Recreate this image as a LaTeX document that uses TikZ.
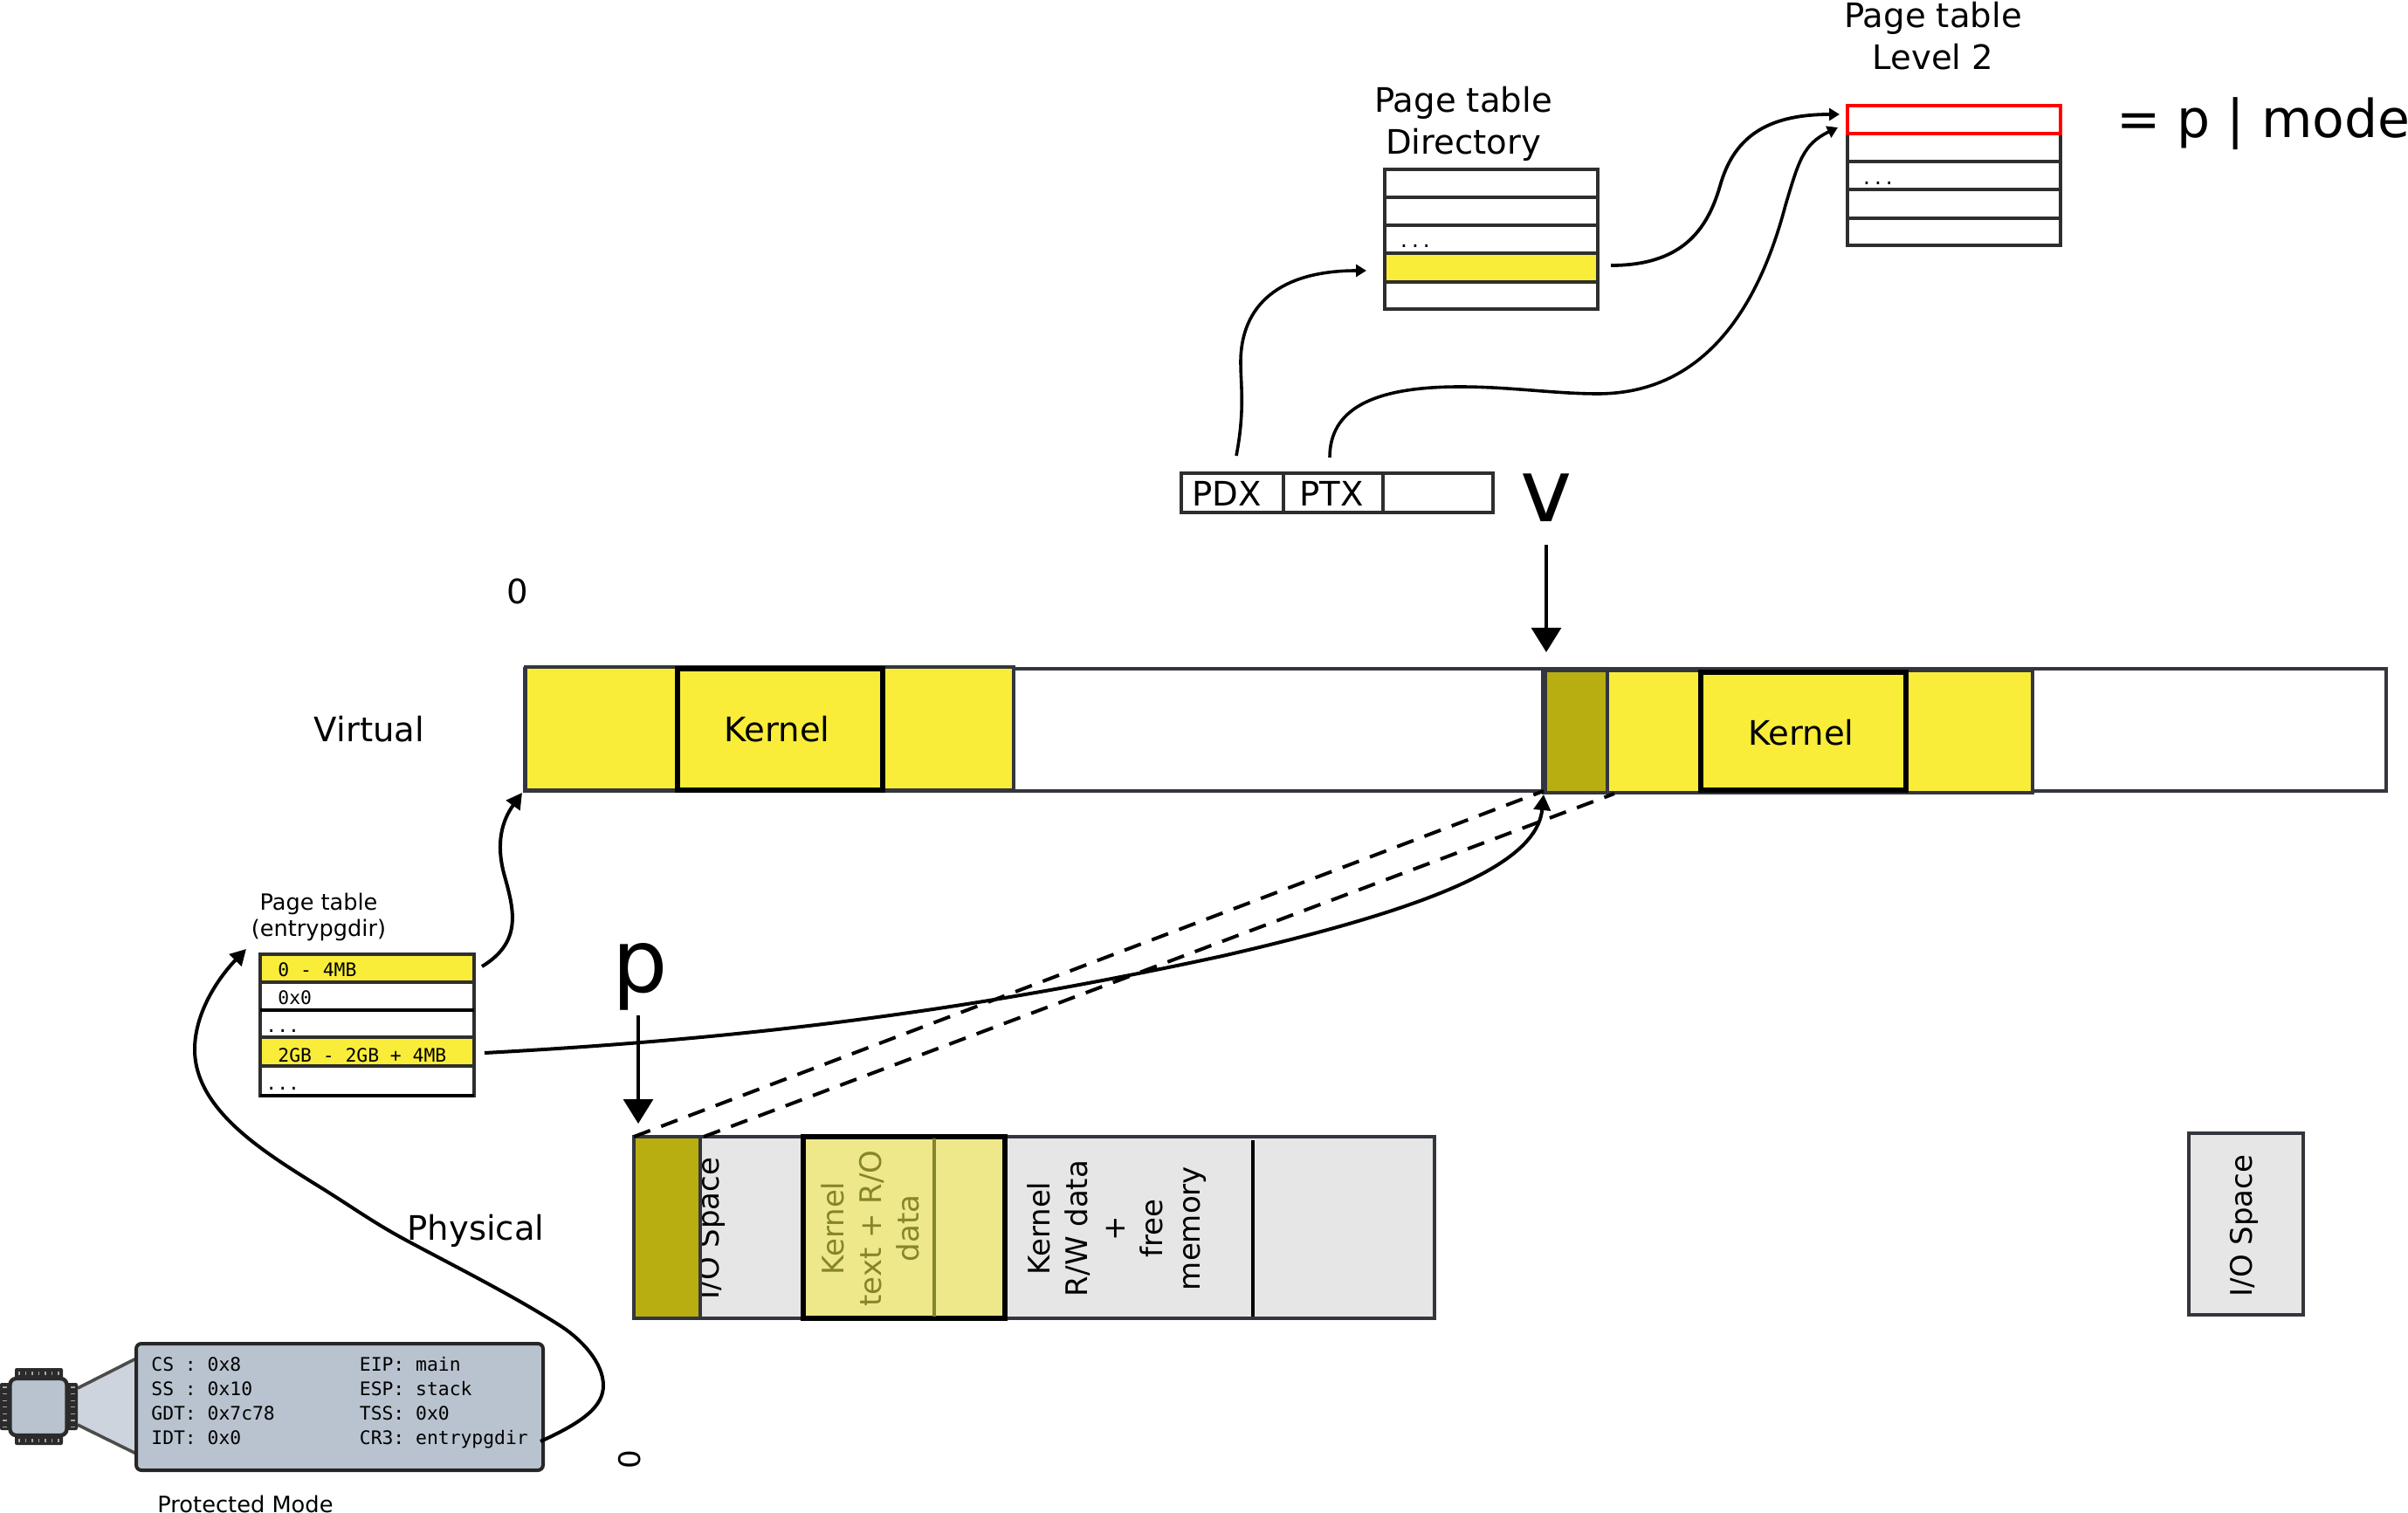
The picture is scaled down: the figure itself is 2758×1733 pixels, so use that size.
\documentclass[tikz,border=0pt]{standalone}
\usepackage{fontspec}
\setmainfont{DejaVu Sans}
\setmonofont{DejaVu Sans Mono}
\usetikzlibrary{arrows.meta,calc}
\definecolor{ylw}{HTML}{F9ED3A}
\definecolor{olv}{HTML}{B8AE12}
\definecolor{pale}{HTML}{EFE88A}
\definecolor{oltxt}{HTML}{85852A}
\definecolor{gry}{HTML}{E6E6E6}
\definecolor{edge}{HTML}{33363D}
\definecolor{steelb}{HTML}{B9C3D0}
\definecolor{conef}{HTML}{CDD4DD}
\definecolor{chipd}{HTML}{2B2B2B}
\newcommand{\bx}[6]{\node[boxn,minimum width={(#4-#2)*0.5pt},minimum height={(#5-#3)*0.5pt},#6] (#1) at ({(#2+#4)/2},{(#3+#5)/2}) {};}
\tikzset{
  boxn/.style={rectangle,inner sep=0pt,outer sep=0pt,draw=edge,line width=2pt},
  rowb/.style={fill=white,draw=black!82,line width=2.3pt},
  yrow/.style={fill=ylw,draw=black!82,line width=2.3pt},
  kern/.style={draw=black,line width=2.8pt},
  sans/.style={inner sep=0pt,font=\fontsize{19.3}{24}\selectfont,align=center},
  phys/.style={inner sep=0pt,font=\fontsize{17}{21.5}\selectfont,align=center,rotate=90},
  small/.style={inner sep=0pt,font=\fontsize{12.8}{16}\selectfont,align=center},
  mono/.style={inner sep=0pt,anchor=base west,font=\ttfamily\fontsize{10.68}{14}\selectfont},
  big/.style={inner sep=0pt,font=\fontsize{50}{60}\selectfont},
  curve/.style={draw=black,line width=1.8pt,-{Triangle[length=6pt,width=7pt]}},
  curveB/.style={draw=black,line width=2pt,-{Triangle[length=9pt,width=9.5pt]}},
  down/.style={draw=black,line width=1.6pt,-{Triangle[length=14pt,width=17pt]}},
  mapdash/.style={draw=black,line width=2pt,dash pattern=on 10pt off 6.7pt},
  tick/.style={draw=black!35,line width=0.6pt},
}
\begin{document}
\begin{tikzpicture}[x=0.5pt,y=-0.5pt]
\useasboundingbox (0,0) rectangle (2758,1733);
% ---- page table level 2
\node[sans] (l2a) at (2214,21) {Page table};
\node[sans] (l2b) at (2214,65) {Level 2};
\bx{l2r2}{2116}{153}{2360}{185}{rowb}
\bx{l2r3}{2116}{185}{2360}{217}{rowb}
\bx{l2r4}{2116}{217}{2360}{250}{rowb}
\bx{l2r5}{2116}{250}{2360}{281}{rowb}
\bx{l2r1}{2116}{121}{2360}{153}{fill=white,draw=red,line width=2.2pt}
\node[mono,anchor=base] (l2d) at (2151,212) {...};
\node[inner sep=0pt,anchor=base west,font=\fontsize{30}{36}\selectfont] (pmode) at (2424,158) {= p | mode};
% ---- directory
\node[sans] (da) at (1676,118) {Page table};
\node[sans] (db) at (1676,166) {Directory};
\bx{dr1}{1586}{194}{1830}{226}{rowb}
\bx{dr2}{1586}{226}{1830}{258}{rowb}
\bx{dr3}{1586}{258}{1830}{290}{rowb}
\bx{dr5}{1586}{323}{1830}{354}{rowb}
\bx{dr4}{1586}{290}{1830}{323}{yrow}
\node[mono,anchor=base] (dd) at (1621,284) {...};
% ---- v fields
\bx{pdx}{1353}{542}{1470}{587}{rowb}
\bx{ptx}{1470}{542}{1584}{587}{rowb}
\bx{off}{1584}{542}{1710}{587}{rowb}
\node[sans] (pdxt) at (1405,565) {PDX};
\node[sans] (ptxt) at (1525,565) {PTX};
\node[big] (vv) at (1771,570) {v};
% ---- curves top
\coordinate (s1) at (1416,522);
\coordinate (t1) at (1565,310);
\draw[curve] (s1) .. controls (1426,470) and (1421,440) .. (1421,415) .. controls (1421,350) and (1465,310) .. (t1);
\coordinate (s2) at (1845,304);
\coordinate (t2) at (2107,131);
\draw[curveB,line width=1.9pt,-{Triangle[length=6pt,width=7pt]}] (s2) .. controls (1925,304) and (1955,265) .. (1970,213) .. controls (1985,160) and (2020,131) .. (t2);
\coordinate (s3) at (1523,524);
\coordinate (t3) at (2105,146);
\draw[curve] (s3) .. controls (1523,470) and (1570,443) .. (1672,443) .. controls (1730,443) and (1780,451) .. (1830,451) .. controls (1965,451) and (2020,330) .. (2045,235) .. controls (2060,185) and (2065,165) .. (t3);
% ---- virtual
\node[sans] (zv) at (593,677) {0};
\node[sans] (virt) at (423,835) {Virtual};
\bx{vbar}{601}{766}{2733}{906}{fill=white}
\bx{vl}{602}{764}{1161}{905}{fill=ylw}
\bx{vlk}{776}{766}{1011}{905}{fill=ylw,kern}
\node[sans] (k1) at (890,835) {Kernel};
\bx{vr}{1768}{768}{2328}{908}{fill=ylw}
\bx{vro}{1770}{768}{1841}{908}{fill=olv}
\draw[edge,line width=3.5pt] (vr.north west) -- (vr.south west);
\bx{vrk}{1948}{770}{2183}{905}{fill=ylw,kern}
\node[sans] (k2) at (2063,839) {Kernel};
\coordinate (v1) at (1771,624);
\coordinate (v2) at (1771,747);
\draw[down] (v1) -- (v2);
% ---- physical
\bx{pbar}{726}{1302}{1643}{1510}{fill=gry}
\node[phys] (io1) at (814,1407) {I/O Space};
\bx{po}{726}{1302}{802}{1510}{fill=olv}
\bx{pk}{920}{1302}{1151}{1510}{fill=pale,kern}
\draw[oltxt,line width=1.8pt] (1070,1304) -- (1070,1508);
\node[phys,text=oltxt] (kt) at (997,1407) {Kernel\\text + R/O\\data};
\node[phys] (kd) at (1279,1407) {Kernel\\R/W data\\+\\free\\memory};
\coordinate (l1) at (1435,1306);
\coordinate (l2) at (1435,1508);
\draw[black,line width=1.7pt] (l1) -- (l2);
\bx{io2}{2507}{1298}{2638}{1506}{fill=gry}
\node[phys] (io2t) at (2570,1404) {I/O Space};
\node[sans] (phl) at (545,1410) {Physical};
\node[phys,font=\fontsize{17}{21}\selectfont] (zp) at (721,1672) {0};
\node[big] (pp) at (733,1119) {p};
\coordinate (p1) at (731,1163);
\coordinate (p2) at (731,1287);
\draw[down] (p1) -- (p2);
% ---- dashed mapping
\coordinate (dA) at (726,1302);
\coordinate (dB) at (1768,906);
\coordinate (dC) at (806,1302);
\coordinate (dD) at (1849,909);
\draw[mapdash] (dA) -- (dB);
\draw[mapdash] (dC) -- (dD);
% ---- page table entrypgdir
\node[small] (pt1) at (365,1035) {Page table};
\node[small] (pt2) at (365,1065) {(entrypgdir)};
\bx{e1}{298}{1093}{543}{1125}{yrow}
\bx{e2}{298}{1125}{543}{1157}{rowb}
\bx{e3}{298}{1157}{543}{1188}{rowb}
\bx{e5}{298}{1221}{543}{1255}{rowb}
\bx{e4}{298}{1188}{543}{1221}{yrow}
\draw[black,line width=2.3pt] (e2.south west) -- (e2.south east);
\draw[black,line width=2.3pt] (e5.south west) -- (e5.south east);
\node[mono] (e1t) at (318,1118) {0 - 4MB};
\node[mono] (e2t) at (318,1150) {0x0};
\node[mono] (e3t) at (304,1182) {...};
\node[mono] (e4t) at (318,1216) {2GB - 2GB + 4MB};
\node[mono] (e5t) at (304,1248) {...};
\coordinate (s4) at (552,1107);
\coordinate (t4) at (598,908);
\draw[curveB] (s4) .. controls (600,1078) and (588,1040) .. (577,1000) .. controls (568,965) and (575,940) .. (t4);
\coordinate (s5) at (555,1206);
\coordinate (t5) at (1768,910);
\draw[curveB] (s5) .. controls (850,1190) and (1100,1160) .. (1400,1095) .. controls (1640,1040) and (1760,990) .. (t5);
% ---- CPU and registers
\path[fill=conef] (89,1590) -- (156,1556) -- (156,1665) -- (89,1632) -- cycle;
\coordinate (c1) at (89,1590); \coordinate (c2) at (156,1556);
\coordinate (c3) at (89,1632); \coordinate (c4) at (156,1665);
\draw[black!70,line width=1.8pt] (c1) -- (c2);
\draw[black!70,line width=1.8pt] (c3) -- (c4);
\node[rectangle,rounded corners=3pt,draw=black!85,fill=steelb,line width=2pt,inner sep=0pt,minimum width=233pt,minimum height=72.5pt] (regs) at (389,1611.5) {};
\bx{pt}{17}{1567}{72}{1655}{fill=chipd,draw=none,rounded corners=1pt}
\bx{pl}{0}{1584}{89}{1638}{fill=chipd,draw=none,rounded corners=1pt}
\foreach \k in {0,...,6}{
  \draw[tick] ({22+7.5*\k},1571) -- ({22+7.5*\k},1575);
  \draw[tick] ({22+7.5*\k},1648) -- ({22+7.5*\k},1652);
  \draw[tick] (3,{1589+7.6*\k}) -- (8,{1589+7.6*\k});
  \draw[tick] (81,{1589+7.6*\k}) -- (86,{1589+7.6*\k});
}
\node[rectangle,rounded corners=3.5pt,draw=chipd,fill=steelb,line width=2.2pt,inner sep=0pt,minimum width=32.5pt,minimum height=32.5pt] (chip) at (44,1611.5) {};
\node[mono] (r1) at (173,1570) {CS : 0x8};
\node[mono] (r2) at (173,1598) {SS : 0x10};
\node[mono] (r3) at (173,1626) {GDT: 0x7c78};
\node[mono] (r4) at (173,1654) {IDT: 0x0};
\node[mono] (r5) at (411.5,1570) {EIP: main};
\node[mono] (r6) at (411.5,1598) {ESP: stack};
\node[mono] (r7) at (411.5,1626) {TSS: 0x0};
\node[mono] (r8) at (411.5,1654) {CR3: entrypgdir};
\node[inner sep=0pt,font=\fontsize{12.85}{16}\selectfont] (prot) at (281,1722.5) {Protected Mode};
\coordinate (s6) at (619,1651);
\coordinate (t6) at (282,1087);
\draw[curveB] (s6) .. controls (670,1628) and (691,1610) .. (691,1587) .. controls (691,1560) and (665,1534) .. (644,1520) .. controls (590,1485) and (520,1450) .. (466,1421) .. controls (425,1399) and (400,1380) .. (359,1355) .. controls (300,1318) and (223,1270) .. (223,1202) .. controls (223,1160) and (250,1120) .. (t6);
\end{tikzpicture}
\end{document}
